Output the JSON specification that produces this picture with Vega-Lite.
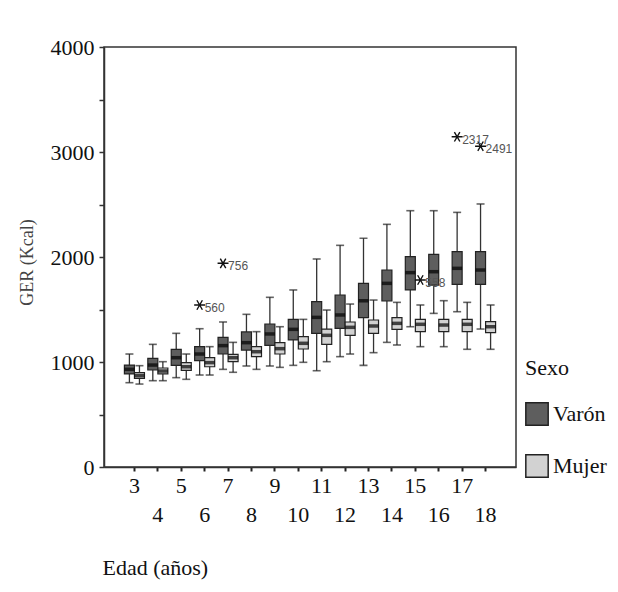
{
  "$schema": "https://vega.github.io/schema/vega-lite/v6.json",
  "autosize": {"type": "none"},
  "padding": {"left": 104, "top": 47, "right": 102, "bottom": 125},
  "width": 412,
  "height": 420,
  "background": "white",
  "config": {
    "view": {"stroke": "#333", "strokeWidth": 1.5},
    "font": "Liberation Serif",
    "legend": {"labelFont": "Liberation Serif", "titleFont": "Liberation Serif", "labelFontSize": 22, "titleFontSize": 22}
  },
  "datasets": {
    "boxes": [
      {"age": 3, "sexo": "Varón", "lo": 803, "q1": 886, "med": 930, "q3": 971, "hi": 1076},
      {"age": 3, "sexo": "Mujer", "lo": 790, "q1": 845, "med": 870, "q3": 898, "hi": 965},
      {"age": 4, "sexo": "Varón", "lo": 822, "q1": 924, "med": 971, "q3": 1035, "hi": 1168},
      {"age": 4, "sexo": "Mujer", "lo": 822, "q1": 886, "med": 914, "q3": 943, "hi": 1003},
      {"age": 5, "sexo": "Varón", "lo": 851, "q1": 968, "med": 1041, "q3": 1121, "hi": 1273},
      {"age": 5, "sexo": "Mujer", "lo": 835, "q1": 921, "med": 955, "q3": 994, "hi": 1076},
      {"age": 6, "sexo": "Varón", "lo": 876, "q1": 1013, "med": 1076, "q3": 1146, "hi": 1317},
      {"age": 6, "sexo": "Mujer", "lo": 876, "q1": 955, "med": 994, "q3": 1041, "hi": 1146},
      {"age": 7, "sexo": "Varón", "lo": 930, "q1": 1076, "med": 1156, "q3": 1235, "hi": 1381},
      {"age": 7, "sexo": "Mujer", "lo": 902, "q1": 1003, "med": 1041, "q3": 1073, "hi": 1187},
      {"age": 8, "sexo": "Varón", "lo": 962, "q1": 1114, "med": 1184, "q3": 1286, "hi": 1454},
      {"age": 8, "sexo": "Mujer", "lo": 930, "q1": 1051, "med": 1098, "q3": 1146, "hi": 1289},
      {"age": 9, "sexo": "Varón", "lo": 962, "q1": 1159, "med": 1267, "q3": 1362, "hi": 1616},
      {"age": 9, "sexo": "Mujer", "lo": 949, "q1": 1076, "med": 1127, "q3": 1184, "hi": 1336},
      {"age": 10, "sexo": "Varón", "lo": 968, "q1": 1210, "med": 1311, "q3": 1406, "hi": 1686},
      {"age": 10, "sexo": "Mujer", "lo": 997, "q1": 1124, "med": 1178, "q3": 1241, "hi": 1406},
      {"age": 11, "sexo": "Varón", "lo": 917, "q1": 1273, "med": 1425, "q3": 1575, "hi": 1981},
      {"age": 11, "sexo": "Mujer", "lo": 1003, "q1": 1168, "med": 1254, "q3": 1314, "hi": 1495},
      {"age": 12, "sexo": "Varón", "lo": 1051, "q1": 1321, "med": 1448, "q3": 1638, "hi": 2111},
      {"age": 12, "sexo": "Mujer", "lo": 1076, "q1": 1254, "med": 1330, "q3": 1381, "hi": 1552},
      {"age": 13, "sexo": "Varón", "lo": 968, "q1": 1422, "med": 1584, "q3": 1749, "hi": 2178},
      {"age": 13, "sexo": "Mujer", "lo": 1089, "q1": 1273, "med": 1343, "q3": 1400, "hi": 1590},
      {"age": 14, "sexo": "Varón", "lo": 1187, "q1": 1581, "med": 1749, "q3": 1876, "hi": 2311},
      {"age": 14, "sexo": "Mujer", "lo": 1162, "q1": 1311, "med": 1368, "q3": 1422, "hi": 1568},
      {"age": 15, "sexo": "Varón", "lo": 1336, "q1": 1686, "med": 1851, "q3": 2003, "hi": 2441},
      {"age": 15, "sexo": "Mujer", "lo": 1146, "q1": 1289, "med": 1359, "q3": 1406, "hi": 1543},
      {"age": 16, "sexo": "Varón", "lo": 1463, "q1": 1733, "med": 1860, "q3": 2025, "hi": 2441},
      {"age": 16, "sexo": "Mujer", "lo": 1146, "q1": 1289, "med": 1352, "q3": 1406, "hi": 1584},
      {"age": 17, "sexo": "Varón", "lo": 1479, "q1": 1740, "med": 1892, "q3": 2051, "hi": 2425},
      {"age": 17, "sexo": "Mujer", "lo": 1121, "q1": 1289, "med": 1359, "q3": 1406, "hi": 1568},
      {"age": 18, "sexo": "Varón", "lo": 1314, "q1": 1740, "med": 1876, "q3": 2051, "hi": 2505},
      {"age": 18, "sexo": "Mujer", "lo": 1121, "q1": 1279, "med": 1336, "q3": 1384, "hi": 1543}
    ],
    "outliers": [
      {"age": 6, "sexo": "Varón", "value": 1543, "id": "560"},
      {"age": 7, "sexo": "Varón", "value": 1940, "id": "756"},
      {"age": 15, "sexo": "Mujer", "value": 1781, "id": "558"},
      {"age": 17, "sexo": "Varón", "value": 3145, "id": "2317"},
      {"age": 18, "sexo": "Varón", "value": 3055, "id": "2491"}
    ]
  },
  "layer": [
    {
      "data": {"name": "boxes"},
      "mark": {"type": "rule", "color": "#333", "strokeWidth": 1.3},
      "encoding": {
        "x": {
          "field": "age", "type": "ordinal",
          "scale": {"paddingInner": 0, "paddingOuter": 0.8},
          "axis": {
            "title": "Edad (años)",
            "labelAngle": 0,
            "labelOverlap": false,
            "labelFont": "Liberation Serif",
            "labelFontSize": 22,
            "labelColor": "#111",
            "labelBaseline": "middle",
            "labelPadding": {"condition": {"test": "datum.value % 2 == 0", "value": 43}, "value": 14},
            "tickSize": 4,
            "tickWidth": 2,
            "tickColor": "#222",
            "domainColor": "#333",
            "domainWidth": 1.5,
            "titleFont": "Liberation Serif",
            "titleFontSize": 22,
            "titleFontWeight": "normal",
            "titleColor": "#111",
            "titleAlign": "left",
            "titleAnchor": "start",
            "titleBaseline": "middle",
            "titleX": -2,
            "titleY": 100
          }
        },
        "xOffset": {
          "field": "sexo", "type": "nominal",
          "scale": {"domain": ["Varón", "Mujer"], "paddingInner": 0, "paddingOuter": 0.165}
        },
        "y": {
          "field": "lo", "type": "quantitative",
          "scale": {"domain": [0, 4000], "nice": false},
          "axis": {
            "title": "GER (Kcal)",
            "values": [0, 500, 1000, 1500, 2000, 2500, 3000, 3500, 4000],
            "format": "d",
            "labelExpr": "datum.value % 1000 == 0 ? datum.label : ''",
            "labelOverlap": false,
            "labelFont": "Liberation Serif",
            "labelFontSize": 22,
            "labelColor": "#111",
            "labelPadding": 5,
            "tickSize": 5,
            "tickWidth": 1.5,
            "tickColor": "#333",
            "domainColor": "#333",
            "domainWidth": 1.5,
            "grid": false,
            "titleFont": "Liberation Serif",
            "titleFontSize": 18,
            "titleFontWeight": "normal",
            "titleColor": "#444",
            "titleAngle": -90,
            "titleAlign": "center",
            "titleBaseline": "middle",
            "titleX": -77,
            "titleY": 215
          }
        },
        "y2": {"field": "hi"}
      }
    },
    {
      "data": {"name": "boxes"},
      "mark": {"type": "tick", "color": "#222", "size": 8, "thickness": 1.6},
      "encoding": {
        "x": {"field": "age", "type": "ordinal"},
        "xOffset": {"field": "sexo", "type": "nominal"},
        "y": {"field": "lo", "type": "quantitative"}
      }
    },
    {
      "data": {"name": "boxes"},
      "mark": {"type": "tick", "color": "#222", "size": 8, "thickness": 1.6},
      "encoding": {
        "x": {"field": "age", "type": "ordinal"},
        "xOffset": {"field": "sexo", "type": "nominal"},
        "y": {"field": "hi", "type": "quantitative"}
      }
    },
    {
      "data": {"name": "boxes"},
      "mark": {"type": "bar", "size": 10, "stroke": "#222", "strokeWidth": 1.2, "opacity": 1},
      "encoding": {
        "x": {"field": "age", "type": "ordinal"},
        "xOffset": {"field": "sexo", "type": "nominal"},
        "y": {"field": "q1", "type": "quantitative"},
        "y2": {"field": "q3"},
        "fill": {
          "field": "sexo", "type": "nominal",
          "scale": {"domain": ["Varón", "Mujer"], "range": ["#5e5e5e", "#d2d2d2"]},
          "legend": {
            "title": "Sexo",
            "orient": "none",
            "legendX": 421,
            "legendY": 311,
            "padding": 0,
            "symbolType": "square",
            "symbolSize": 500,
            "symbolStrokeColor": "#222",
            "symbolStrokeWidth": 1.5,
            "symbolOpacity": 1,
            "titleFont": "Liberation Serif",
            "titleFontSize": 22,
            "titleFontWeight": "normal",
            "titleColor": "#111",
            "titlePadding": 22,
            "labelFont": "Liberation Serif",
            "labelFontSize": 22,
            "labelColor": "#111",
            "labelOffset": 4,
            "rowPadding": 22
          }
        }
      }
    },
    {
      "data": {"name": "boxes"},
      "mark": {"type": "tick", "color": "#000", "size": 10, "thickness": 3.5},
      "encoding": {
        "x": {"field": "age", "type": "ordinal"},
        "xOffset": {"field": "sexo", "type": "nominal"},
        "y": {"field": "med", "type": "quantitative"}
      }
    },
    {
      "data": {"name": "outliers"},
      "mark": {
        "type": "point",
        "shape": "M-1,0L1,0M-0.5,-0.866L0.5,0.866M-0.5,0.866L0.5,-0.866",
        "size": 120,
        "filled": false,
        "stroke": "#111",
        "strokeWidth": 1.4,
        "opacity": 1
      },
      "encoding": {
        "x": {"field": "age", "type": "ordinal"},
        "xOffset": {"field": "sexo", "type": "nominal"},
        "y": {"field": "value", "type": "quantitative"}
      }
    },
    {
      "data": {"name": "outliers"},
      "mark": {
        "type": "text",
        "align": "left",
        "baseline": "middle",
        "dx": 5,
        "dy": 3,
        "font": "Liberation Sans",
        "fontSize": 12,
        "color": "#555"
      },
      "encoding": {
        "x": {"field": "age", "type": "ordinal"},
        "xOffset": {"field": "sexo", "type": "nominal"},
        "y": {"field": "value", "type": "quantitative"},
        "text": {"field": "id"}
      }
    }
  ]
}
